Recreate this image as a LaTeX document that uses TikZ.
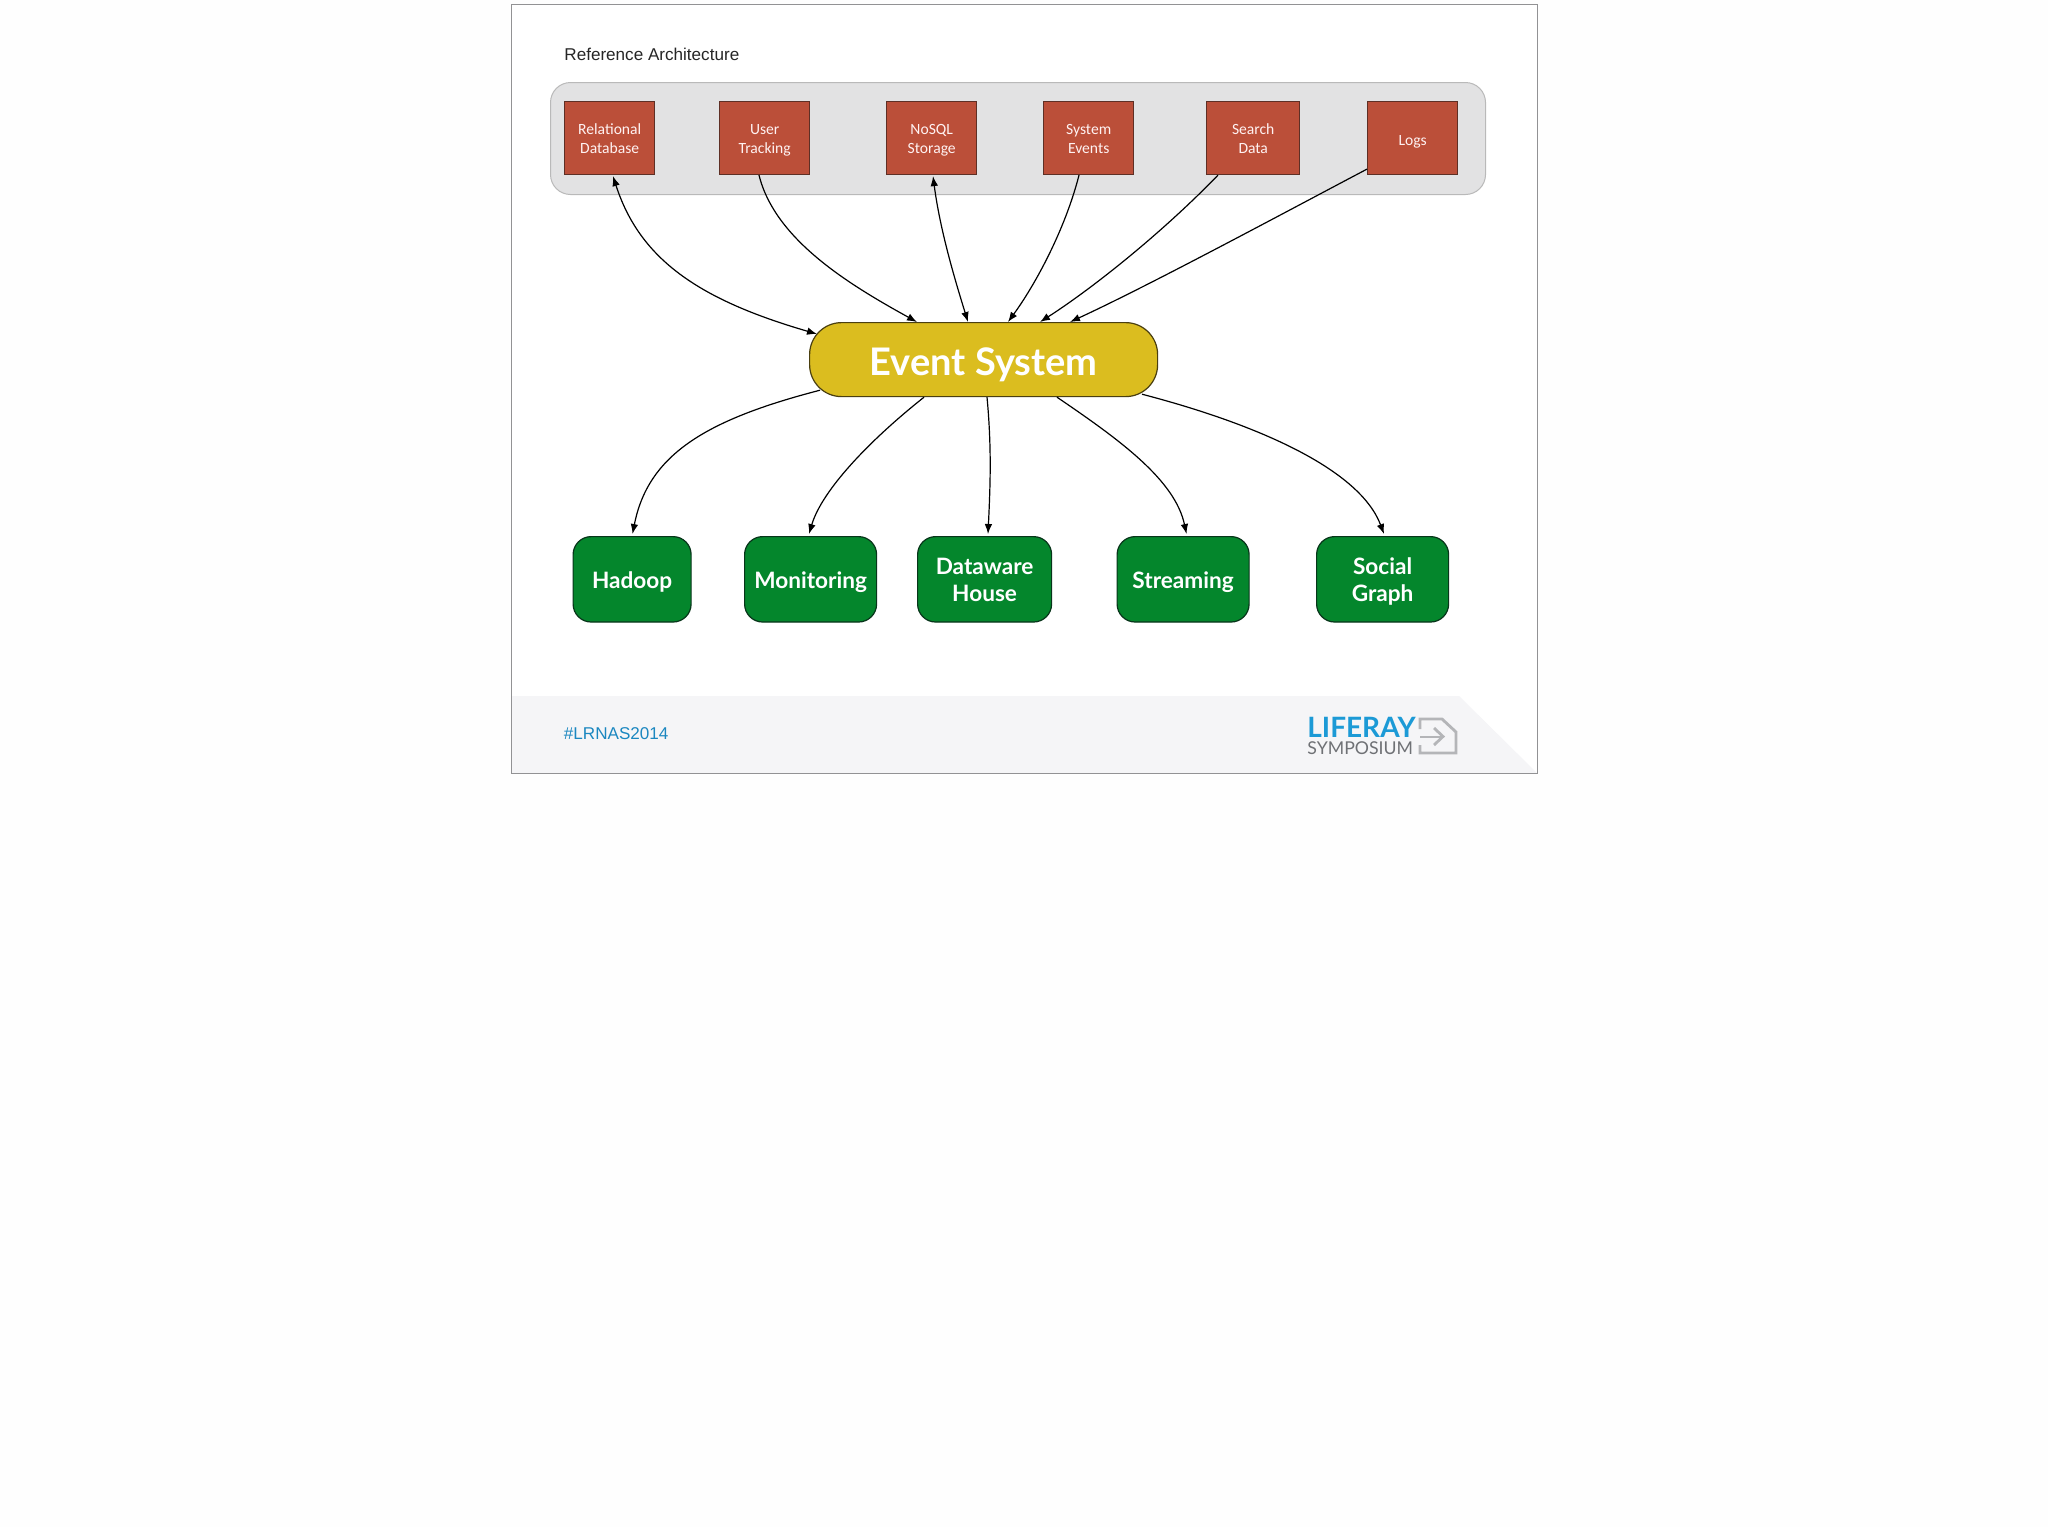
\documentclass[tikz,border=0pt]{standalone}
\usepackage{fontspec}
\setmainfont{Lato}
\newfontfamily\arialf{Liberation Sans}
\newfontfamily\carlitof{Carlito}
\usetikzlibrary{arrows.meta,calc}
\definecolor{redbox}{HTML}{BB4F39}
\definecolor{redline}{HTML}{5E2F25}
\definecolor{greenbox}{HTML}{04862C}
\definecolor{greenline}{HTML}{08351A}
\definecolor{yellowbox}{HTML}{DBBD1F}
\definecolor{yellowline}{HTML}{4A3F10}
\definecolor{panelfill}{HTML}{E2E2E3}
\definecolor{panelline}{HTML}{B9B9B9}
\definecolor{framecol}{HTML}{929294}
\definecolor{footfill}{HTML}{F5F5F7}
\definecolor{lrblue}{HTML}{1B87C0}
\definecolor{logoblue}{HTML}{1C9AD6}
\definecolor{logogray}{HTML}{6F7175}
\definecolor{logoicon}{HTML}{B4B5B8}
\newcommand{\rs}{\rule{0pt}{9.04pt}}
\newcommand{\gs}{\rule{0pt}{13pt}}
\newcommand{\gone}{\rule{0pt}{14.6pt}}
\newcommand{\gdp}{\rule[-5pt]{0pt}{5pt}}
\tikzset{
  x=0.5pt,y=-0.5pt,
  source/.style={draw=redline,fill=redbox,line width=0.7pt,text=white!95!red,font=\carlitof\fontsize{7.8}{9.2}\selectfont,align=center,inner sep=0pt,anchor=north west},
  sink/.style={draw=greenline,fill=greenbox,line width=0.6pt,rounded corners=9pt,text=white,font=\fontsize{11.3}{13.4}\selectfont\bfseries,align=center,inner sep=0pt,anchor=north west},
  hub/.style={draw=yellowline,fill=yellowbox,line width=0.6pt,rounded corners=16pt,text=white,font=\fontsize{19}{22}\selectfont\bfseries,align=center,inner sep=0pt,anchor=north west},
  plainlabel/.style={inner sep=0pt,anchor=west},
  arr/.style={draw=black,line width=0.6pt,-{Latex[length=5pt,width=3.8pt]}},
  bi/.style={draw=black,line width=0.6pt,{Latex[length=5pt,width=3.8pt]}-{Latex[length=5pt,width=3.8pt]}},
}
\begin{document}
\begin{tikzpicture}
\useasboundingbox (0,0) rectangle (2048,1527);
\fill[white!99.5!black] (0,0) rectangle (2048,1527);
% slide
\fill[white] (511,4.5) rectangle (1537,773);
\fill[footfill] (511,696) -- (1459,696) -- (1537,773) -- (511,773) -- cycle;
\draw[framecol,line width=0.5pt] (511,4.5) rectangle (1537,773);
\node[plainlabel,text=black!85,font=\arialf\fontsize{8.55}{10}\selectfont] (title) at (564,54) {Reference Architecture};
\node[plainlabel,text=lrblue,font=\arialf\fontsize{8.55}{10}\selectfont] (tag) at (563.5,734) {\#LRNAS2014};
% panel
\node[draw=panelline,fill=panelfill,line width=0.5pt,rounded corners=10pt,minimum width=467.5pt,minimum height=56pt,inner sep=0pt,anchor=north west] (panel) at (550,82) {};
% sources
\node[source,minimum width=45pt,minimum height=36.6pt] (db) at (564,100.5) {\rs Relational\\\strut Database};
\node[source,minimum width=45pt,minimum height=36.6pt] (ut) at (719,100.5) {\rs User\\\strut Tracking};
\node[source,minimum width=45pt,minimum height=36.6pt] (ns) at (886,100.5) {\rs NoSQL\\\strut Storage};
\node[source,minimum width=45pt,minimum height=36.6pt] (se) at (1043,100.5) {\rs System\\\strut Events};
\node[source,minimum width=46.5pt,minimum height=36.6pt] (sd) at (1206,100.5) {\rs Search\\\strut Data};
\node[source,minimum width=45pt,minimum height=36.6pt] (lg) at (1367,100.5) {\rule{0pt}{10.4pt}\strut Logs};
% hub
\node[hub,minimum width=174pt,minimum height=37pt] (evt) at (809,322) {\rule{0pt}{25.2pt}Event System\rule[-9pt]{0pt}{9pt}};
% sinks
\node[sink,minimum width=59pt,minimum height=42.7pt] (hd) at (572.5,536) {\gone\strut Hadoop\gdp};
\node[sink,minimum width=66pt,minimum height=42.7pt] (mo) at (744,536) {\gone\strut Monitoring\gdp};
\node[sink,minimum width=67pt,minimum height=42.7pt] (dw) at (917,536) {\gs Dataware\\\strut House};
\node[sink,minimum width=66pt,minimum height=42.7pt] (st) at (1116.5,536) {\gone\strut Streaming\gdp};
\node[sink,minimum width=66pt,minimum height=42.7pt] (sg) at (1316,536) {\gs Social\\\strut Graph};
% connectors in
\draw[bi] ($(db.south west)+(49,1)$) .. controls (640,260) and (700,300) .. ($(evt.north west)+(8,12)$);
\draw[arr] ($(ut.south west)+(40,0)$) .. controls (775,240) and (850,285) .. ($(evt.north west)+(108,0)$);
\draw[bi] ($(ns.south west)+(47,1)$) .. controls (940,230) and (955,280) .. ($(evt.north west)+(159,0)$);
\draw[arr] ($(se.south west)+(36,0)$) .. controls (1065,230) and (1035,285) .. ($(evt.north west)+(199,0)$);
\draw[arr] ($(sd.south west)+(12,0)$) .. controls (1160,235) and (1090,290) .. ($(evt.north west)+(231,0)$);
\draw[arr] ($(lg.south west)+(0,-6)$) .. controls (1280,215) and (1150,285) .. ($(evt.north west)+(261,0)$);
% connectors out
\draw[arr] ($(evt.south west)+(11,-7)$) .. controls (705,420) and (648,455) .. ($(hd.north west)+(60,-2)$);
\draw[arr] ($(evt.south west)+(115,0)$) .. controls (870,440) and (822,490) .. ($(mo.north west)+(65,-2)$);
\draw[arr] ($(evt.south west)+(178,0)$) .. controls (992,450) and (990,490) .. ($(dw.north west)+(71,-2)$);
\draw[arr] ($(evt.south west)+(248,0)$) .. controls (1120,440) and (1175,480) .. ($(st.north west)+(70,-2)$);
\draw[arr] ($(evt.south west)+(333,-3)$) .. controls (1260,425) and (1360,470) .. ($(sg.north west)+(68,-2)$);
% logo
\node[plainlabel,text=logoblue,font=\fontsize{14}{16}\selectfont\bfseries] (logoa) at (1307,727) {LIFERAY};
\node[plainlabel,text=logogray,font=\fontsize{8.85}{10}\selectfont] (logob) at (1307,748) {SYMPOSIUM};
\draw[logoicon,line width=1.4pt,line join=miter] (1420,729) -- (1420,719) -- (1442,719) -- (1456,732) -- (1456,753) -- (1420,753) -- (1420,745);
\draw[logoicon,line width=1.4pt] (1420,737) -- (1441,737);
\draw[logoicon,line width=1.4pt] (1434,728) -- (1443,736.5) -- (1434,745);
\end{tikzpicture}
\end{document}
